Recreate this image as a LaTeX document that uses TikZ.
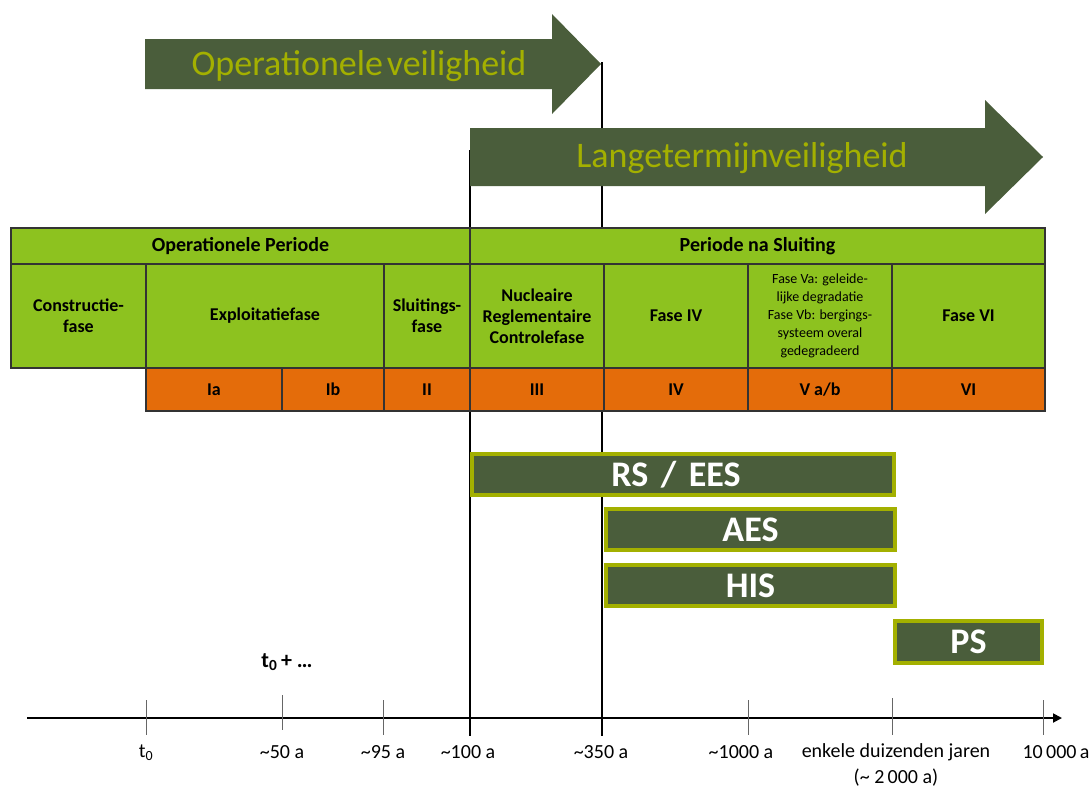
\documentclass[tikz,border=0pt]{standalone}
\usepackage{fontspec}
\setmainfont{Carlito}
\usetikzlibrary{arrows.meta}
\definecolor{phasegreen}{HTML}{8DC21F}
\definecolor{phaseorange}{HTML}{E46C0A}
\definecolor{darkolive}{HTML}{4A5D3B}
\definecolor{brightolive}{HTML}{A3B000}
\begin{document}
\begin{tikzpicture}[x=1pt,y=-1pt,
  cell/.style={draw=black!80,line width=1.2pt,inner sep=1pt,outer sep=0pt,align=center,font=\bfseries\fontsize{18}{21}\selectfont},
  greencell/.style={cell,fill=phasegreen},
  orangecell/.style={cell,fill=phaseorange,minimum height=43pt},
  bar/.style={draw=brightolive,line width=4pt,fill=darkolive,text=white,inner sep=0pt,outer sep=0pt,font=\bfseries\fontsize{36}{38}\selectfont},
  bigarrow/.style={fill=darkolive},
  arrowtext/.style={text=brightolive,font=\fontsize{36}{40}\selectfont},
  ticklabel/.style={font=\fontsize{20}{22}\selectfont,inner sep=0pt},
  tick/.style={draw=black!60,line width=1pt},
]
\useasboundingbox (0,0) rectangle (1091,790);

% milestone lines at ~100 a and ~350 a (behind everything else)
\coordinate (m100top) at (470,150);
\coordinate (m100bot) at (470,736);
\coordinate (m350top) at (602,62);
\coordinate (m350bot) at (602,736);
\draw[line width=1.8pt] (m100top) -- (m100bot);
\draw[line width=1.8pt] (m350top) -- (m350bot);

% safety arrows
\fill[bigarrow] (145,39) -- (552,39) -- (552,14) -- (601,64) -- (552,114) -- (552,89) -- (145,89) -- cycle;
\node[arrowtext] (opsafe) at (359,66) {Operationele\hspace{-0.12em} veiligheid};
\fill[bigarrow] (470,128) -- (985,128) -- (985,100) -- (1043,157) -- (985,214) -- (985,186) -- (470,186) -- cycle;
\node[arrowtext] (ltsafe) at (742,158) {Langetermijnveiligheid};

% periods
\node[greencell,minimum width=459pt,minimum height=36pt,font=\bfseries\fontsize{20}{22}\selectfont] (opper) at (240.5,246) {Operationele Periode};
\node[greencell,minimum width=575pt,minimum height=36pt,font=\bfseries\fontsize{20}{22}\selectfont] (postper) at (757.5,246) {Periode na Sluiting};

% phases
\node[greencell,minimum width=135pt,minimum height=104pt] (constr) at (78.5,316) {Constructie-\\fase};
\node[greencell,minimum width=238pt,minimum height=104pt] (exploit) at (265,316) {Exploitatiefase};
\node[greencell,minimum width=86pt,minimum height=104pt] (closing) at (427,316) {Sluitings-\\fase};
\node[greencell,minimum width=134pt,minimum height=104pt] (control) at (537,316) {Nucleaire\\Reglementaire\\Controlefase};
\node[greencell,minimum width=144pt,minimum height=104pt] (fase4) at (676,316) {Fase IV};
\node[greencell,minimum width=144pt,minimum height=104pt,font=\fontsize{14}{18}\selectfont] (fase5) at (820,316) {Fase Va: geleide-\\lijke degradatie\\Fase Vb: bergings-\\systeem overal\\gedegradeerd};
\node[greencell,minimum width=153pt,minimum height=104pt] (fase6) at (968.5,316) {Fase VI};

% phase codes
\node[orangecell,minimum width=136pt] (cIa) at (214,389.5) {Ia};
\node[orangecell,minimum width=102pt] (cIb) at (333,389.5) {Ib};
\node[orangecell,minimum width=86pt] (cII) at (427,389.5) {II};
\node[orangecell,minimum width=134pt] (cIII) at (537,389.5) {III};
\node[orangecell,minimum width=144pt] (cIV) at (676,389.5) {IV};
\node[orangecell,minimum width=144pt] (cV) at (820,389.5) {V a/b};
\node[orangecell,minimum width=153pt] (cVI) at (968.5,389.5) {VI};

% safety functions
\node[bar,minimum width=422pt,minimum height=41pt] (rs) at (683,474.5) {\hspace*{-14pt}RS\hspace{0.12em} /\hspace{0.12em} EES};
\node[bar,minimum width=289pt,minimum height=41pt] (aes) at (750.5,529.5) {AES};
\node[bar,minimum width=289pt,minimum height=41pt] (his) at (750.5,585.5) {HIS};
\node[bar,minimum width=147pt,minimum height=42pt] (ps) at (968.5,642) {PS};

% time axis
\coordinate (axstart) at (27,718);
\coordinate (axend) at (1062,718);
\draw[line width=1.8pt,-{Triangle[length=9pt,width=9pt]}] (axstart) -- (axend);
\foreach \x/\ya/\yb in {146/700/735, 282/695/730, 383/700/735, 748/700/735, 892/698/735, 1043/700/735}
  \draw[tick] (\x,\ya) -- (\x,\yb);

\node[font=\bfseries\fontsize{22}{24}\selectfont] (tplus) at (287,662) {t\textsubscript{0}\,+ \ldots};
\node[ticklabel] (lt0) at (146,753) {t\textsubscript{0}};
\node[ticklabel] (l50) at (282,752) {\textasciitilde50 a};
\node[ticklabel] (l95) at (383,752) {\textasciitilde95 a};
\node[ticklabel] (l100) at (468,752) {\textasciitilde100 a};
\node[ticklabel] (l350) at (601,752) {\textasciitilde350 a};
\node[ticklabel] (l1000) at (741,752) {\textasciitilde1000 a};
\node[ticklabel] (lfew) at (896,752) {enkele duizenden jaren};
\node[ticklabel] (lfew2) at (896,778) {(\textasciitilde{} 2\,000 a)};
\node[ticklabel] (l10000) at (1056,752) {10\,000\,a};
\end{tikzpicture}
\end{document}
